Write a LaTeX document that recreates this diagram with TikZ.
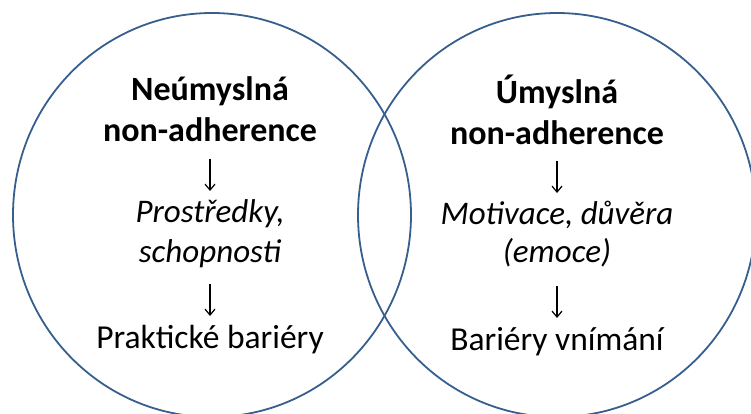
\documentclass[tikz,border=0pt]{standalone}
\usepackage{fontspec}
\setmainfont{Carlito}
\usetikzlibrary{arrows.meta}
\definecolor{ringblue}{HTML}{365F8E}
\tikzset{
  ring/.style={draw=ringblue, line width=1.8pt},
  txt/.style={anchor=base, inner sep=0pt, font=\fontsize{33.5}{40}\selectfont},
  bold/.style={txt, font=\fontsize{34}{40}\selectfont\bfseries},
  ital/.style={txt, font=\fontsize{33}{40}\selectfont\itshape},
  flow/.style={line width=1.2pt, -{Straight Barb[length=6pt,width=10pt,line width=1.2pt]}}
}
\begin{document}
\begin{tikzpicture}[x=1pt,y=-1pt]
\useasboundingbox (0,0) rectangle (751,414);
\draw[ring] (212,215) ellipse [x radius=199, y radius=202];
\draw[ring] (557,215) ellipse [x radius=199, y radius=202];
% left
\node[bold] (l1) at (210,101) {Neúmyslná};
\node[bold] (l2) at (210,142) {non-adherence};
\node[ital] (l3) at (210,222) {Prostředky,};
\node[ital] (l4) at (210,262) {schopnosti};
\node[txt]  (l5) at (210,348) {Praktické bariéry};
% right
\node[bold] (r1) at (557,104) {Úmyslná};
\node[bold] (r2) at (557,145) {non-adherence};
\node[ital] (r3) at (557,224) {Motivace, důvěra};
\node[ital] (r4) at (557,262) {(emoce)};
\node[txt]  (r5) at (557,350) {Bariéry vnímání};
% arrows
\coordinate (la1) at (210,159); \coordinate (lb1) at (210,191);
\coordinate (la2) at (210,284); \coordinate (lb2) at (210,316);
\coordinate (ra1) at (557,161); \coordinate (rb1) at (557,193);
\coordinate (ra2) at (557,286); \coordinate (rb2) at (557,318);
\draw[flow] (la1) -- (lb1);
\draw[flow] (la2) -- (lb2);
\draw[flow] (ra1) -- (rb1);
\draw[flow] (ra2) -- (rb2);
\end{tikzpicture}
\end{document}
